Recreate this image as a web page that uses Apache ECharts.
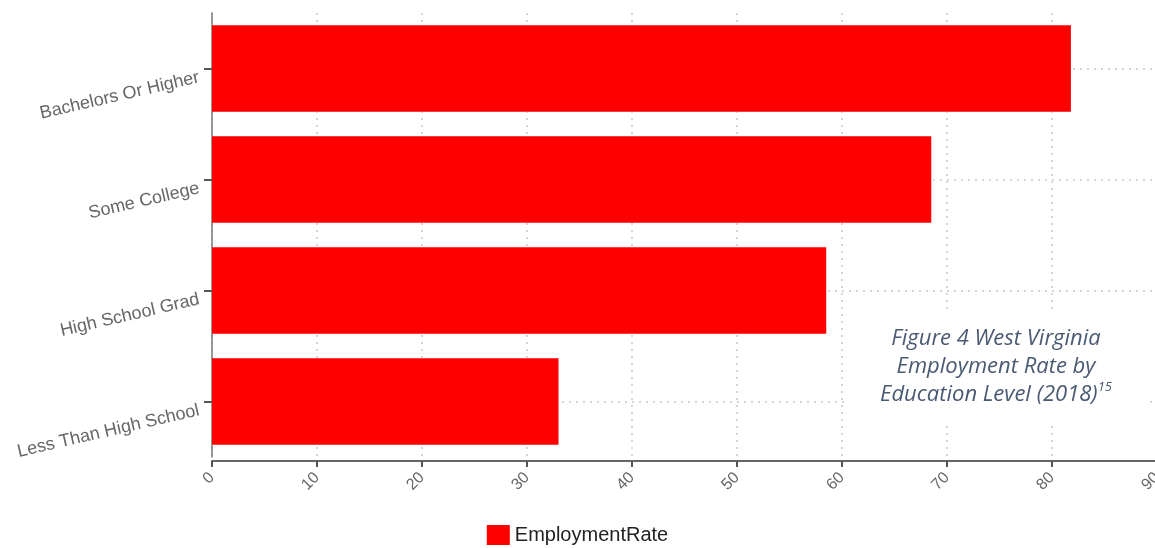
<!DOCTYPE html>
<html>
<head>
<meta charset="utf-8">
<script src="https://cdn.jsdelivr.net/npm/echarts@6/dist/echarts.min.js"></script>
<style>
html,body{margin:0;padding:0;background:#fff;}
#chart{width:1155px;height:548px;}
</style>
</head>
<body>
<div id="chart"></div>
<script>
const categories = ['Bachelors Or Higher', 'Some College', 'High School Grad', 'Less Than High School'];
const employmentRate = [81.8, 68.5, 58.5, 33.0];
const xTicks = [0, 10, 20, 30, 40, 50, 60, 70, 80, 90];
const seriesName = 'EmploymentRate';

const chart = echarts.init(document.getElementById('chart'));
chart.setOption({
  animation: false,
  backgroundColor: '#fff',
  grid: { left: 212, top: 13, width: 945, height: 444, containLabel: false, outerBoundsMode: 'none' },
  legend: {
    data: [seriesName],
    top: 525,
    padding: 0,
    left: 'center',
    icon: 'rect',
    itemWidth: 23,
    itemHeight: 20,
    itemGap: 8,
    textStyle: { fontFamily: 'Liberation Sans, Arial', fontSize: 20, color: '#222' }
  },
  xAxis: {
    type: 'value',
    min: xTicks[0],
    max: xTicks[xTicks.length - 1],
    interval: 10,
    offset: 4,
    axisLine: { show: true, lineStyle: { color: '#666', width: 2 } },
    axisTick: { show: true, length: 6, lineStyle: { color: '#555', width: 2 } },
    axisLabel: {
      rotate: 45, margin: 14, color: '#666',
      fontFamily: 'Liberation Sans, Arial', fontSize: 16
    },
    splitLine: { show: true, lineStyle: { color: '#c8c8c8', type: [2, 5], width: 1.5 } }
  },
  yAxis: {
    type: 'category',
    data: categories,
    inverse: true,
    axisLine: { show: true, lineStyle: { color: '#777', width: 1.5 } },
    axisTick: { show: true, alignWithLabel: true, length: 8, lineStyle: { color: '#555', width: 2 } },
    axisLabel: {
      rotate: 13, margin: 15, color: '#666', verticalAlign: 'top',
      fontFamily: 'Liberation Sans, Arial', fontSize: 18
    },
    splitLine: { show: true, alignWithLabel: true, lineStyle: { color: '#c8c8c8', type: [2, 5], width: 1.5 } }
  },
  series: [{
    name: seriesName,
    type: 'bar',
    data: employmentRate,
    barCategoryGap: '22%',
    itemStyle: { color: '#ff0000' }
  }],
  graphic: [{
    type: 'rect',
    left: 845, top: 309, z: 99,
    shape: { width: 300, height: 112 },
    style: { fill: '#fff' }
  }, {
    type: 'text',
    x: 996,
    y: 325,
    z: 100,
    style: {
      text: '{t|Figure 4 West Virginia}\n{t|Employment Rate by}\n{t|Education Level (2018)}{s|15}',
      align: 'center',
      verticalAlign: 'top',
      fill: '#4a5a72',
      rich: {
        t: { fontFamily: 'Open Sans', fontStyle: 'italic', fontSize: 22, lineHeight: 28, fill: '#4a5a72', color: '#4a5a72' },
        s: { fontFamily: 'Open Sans', fontStyle: 'italic', fontSize: 13, lineHeight: 28, fill: '#4a5a72', color: '#4a5a72', verticalAlign: 'top', padding: [0, 0, 10, 0] }
      }
    }
  }]
});
</script>
</body>
</html>
